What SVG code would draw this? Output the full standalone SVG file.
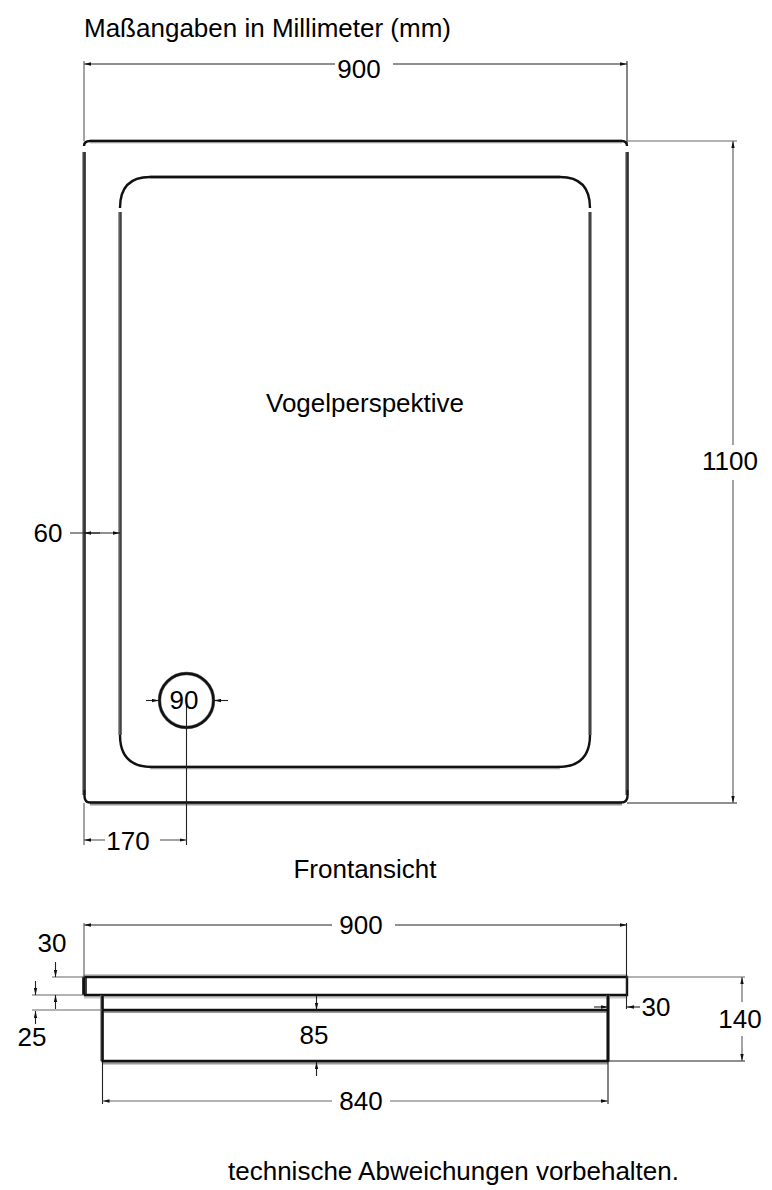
<svg xmlns="http://www.w3.org/2000/svg" width="772" height="1190" viewBox="0 0 772 1190">
<style>
text{font-family:"Liberation Sans",Arial,sans-serif;font-size:26px;fill:#000}
.m{text-anchor:middle}
.halo{fill:none;stroke:#c8c8c8;stroke-width:4}
.halov{fill:none;stroke:#777;stroke-width:3.500}
.body{fill:none;stroke:#111;stroke-width:2.400}
.side{fill:none;stroke:#333;stroke-width:2.400}
.d{fill:none;stroke:#222;stroke-width:1.100}
.e{fill:none;stroke:#666;stroke-width:1.200}
</style>
<defs>
<marker id="a" viewBox="0 0 7 4" refX="7" refY="2" markerWidth="7" markerHeight="4" orient="auto-start-reverse" markerUnits="userSpaceOnUse"><path d="M0 0.300L7 2L0 3.700Z" fill="#111"/></marker>
</defs>
<rect width="772" height="1190" fill="#fff"/>
<g id="top-view">
<g id="outer-tray">
<path class="halo" d="M90 141.500H622"/>
<path class="halov" d="M84 152V795M627 152V795"/>
<path class="halo" d="M90 803.500H622" style="stroke:#999"/>
<path class="body" d="M84.500 790V796Q84.500 802.500 90 802.500H621Q627.500 802.500 627.500 796V790M84 146Q84 141 90 141H622Q627 141 627 146"/>
<path class="side" d="M84.500 152V790M627.500 152V790"/>
</g>
<g id="inner-basin">
<path class="halo" d="M150 177H560M150 767.500H560"/>
<path class="halov" d="M120 212V735M590 212V735"/>
<path class="body" d="M120 735Q120 767 152 767H558Q590 767 590 735M120 208Q120 177 150 177H560Q590 177 590 208"/>
<path class="side" d="M120.500 212V735M590 212V735" style="stroke:#444;stroke-width:2"/>
</g>
<g id="drain">
<circle cx="186.500" cy="700.500" r="27" fill="none" stroke="#777" stroke-width="3.500"/>
<circle cx="186.500" cy="700.500" r="27" fill="none" stroke="#111" stroke-width="2.400"/>
</g>
</g>
<g id="front-view">
<g id="rim">
<path class="halo" d="M84 976H627M84 996.500H627"/>
<path class="halov" d="M84.500 977V995" style="stroke-width:5;stroke:#444"/>
<path class="body" d="M84 995V977H627V995H84"/>
</g>
<g id="base">
<path class="halo" d="M102 1011H608M102 1062.500H608" style="stroke:#999"/>
<path class="halov" d="M102 995V1061M608 995V1061"/>
<path class="body" d="M102.500 995V1061H608V995M102.500 1010H608"/>
</g>
</g>
<g id="connectors">
<path class="d" d="M335 64H84" marker-end="url(#a)"/>
<path class="d" d="M393 64H627" marker-end="url(#a)"/>
<path class="e" d="M84 61V141"/><path class="d" d="M627 61V146"/>
<path class="e" d="M627 141H737"/><path class="d" d="M627 803H737"/>
<path class="e" d="M733 445V141" marker-end="url(#a)"/>
<path class="e" d="M733 480V803" marker-end="url(#a)"/>
<path class="d" d="M70 533H120" marker-end="url(#a)"/>
<path class="d" d="M100 533H84" marker-end="url(#a)"/>
<path class="d" d="M146 700.500H159" marker-end="url(#a)"/>
<path class="d" d="M228 700.500H214" marker-end="url(#a)"/>
<path class="d" d="M186.500 700V845"/>
<path class="e" d="M84 803V845"/>
<path class="e" d="M105 840H84" marker-end="url(#a)"/>
<path class="e" d="M160 840H186.500" marker-end="url(#a)"/>
<path class="d" d="M332 925H84" marker-end="url(#a)"/>
<path class="d" d="M395 925H627" marker-end="url(#a)"/>
<path class="e" d="M84 923V977"/><path class="d" d="M626.500 923V1009"/>
<path class="e" d="M52 977H84M32 995H84M32 1010H102"/>
<path class="d" d="M55.500 962V977" marker-end="url(#a)"/>
<path class="d" d="M35.500 981V995" marker-end="url(#a)"/>
<path class="d" d="M55.500 1009V995" marker-end="url(#a)"/>
<path class="d" d="M35.500 1024V1011" marker-end="url(#a)"/>
<path class="d" d="M640 1007H627" marker-end="url(#a)"/>
<path class="d" d="M594 1007H608" marker-end="url(#a)"/>
<path class="d" d="M316.500 996V1010" marker-end="url(#a)"/>
<path class="d" d="M316.500 1076V1062" marker-end="url(#a)"/>
<path class="e" d="M627 977H745"/><path class="d" d="M608 1061H745"/>
<path class="e" d="M742 1002V977" marker-end="url(#a)"/>
<path class="e" d="M742 1036V1061" marker-end="url(#a)"/>
<path class="d" d="M102.500 1062V1104M608 1062V1104"/>
<path class="e" d="M332 1101H102.500" marker-end="url(#a)"/>
<path class="e" d="M390 1101H608" marker-end="url(#a)"/>
</g>
<g id="labels">
<text x="84" y="37">Maßangaben in Millimeter (mm)</text>
<text class="m" x="359" y="78">900</text>
<text class="m" x="730" y="470">1100</text>
<text class="m" x="365" y="412">Vogelperspektive</text>
<text class="m" x="48" y="542">60</text>
<text class="m" x="184" y="709">90</text>
<text class="m" x="128" y="850">170</text>
<text class="m" x="365" y="878">Frontansicht</text>
<text class="m" x="361" y="934">900</text>
<text class="m" x="52" y="952">30</text>
<text class="m" x="32" y="1046">25</text>
<text class="m" x="314" y="1044">85</text>
<text class="m" x="656" y="1016">30</text>
<text class="m" x="740" y="1028">140</text>
<text class="m" x="361" y="1110">840</text>
<text x="228" y="1180">technische Abweichungen vorbehalten.</text>
</g>
</svg>
